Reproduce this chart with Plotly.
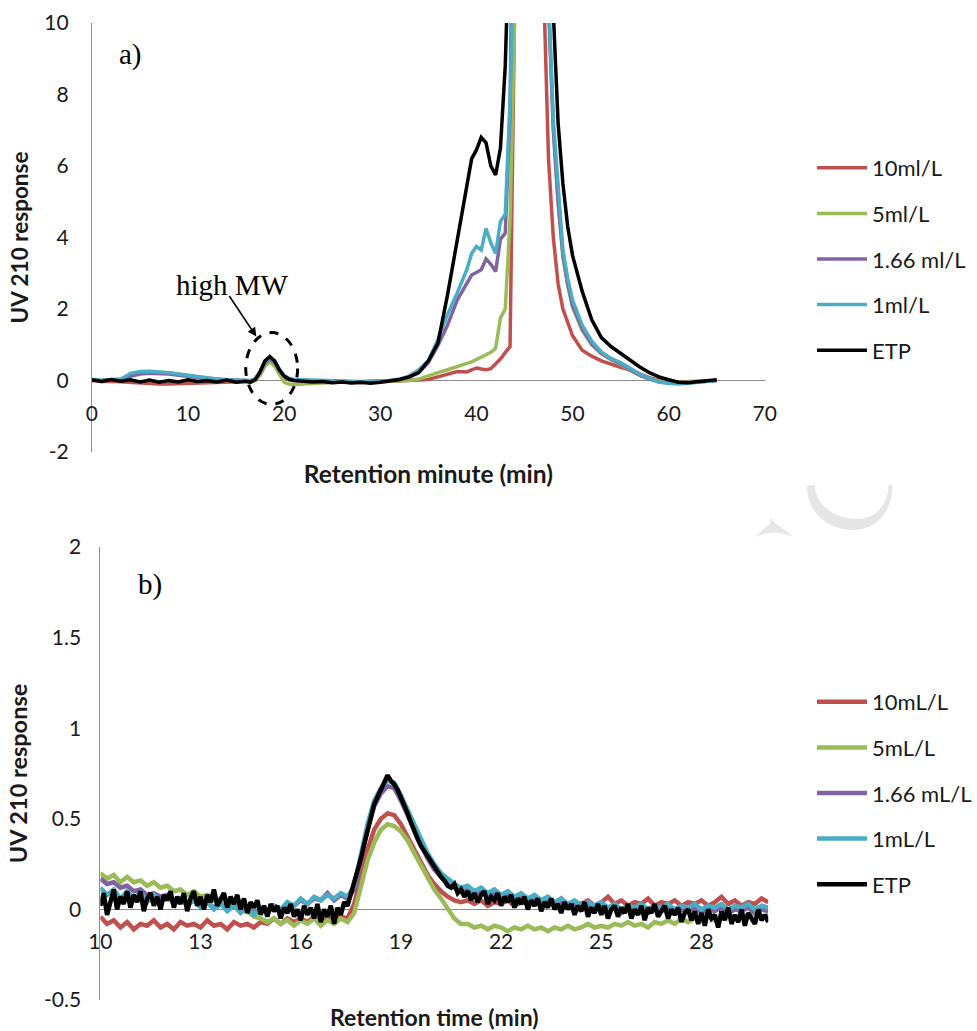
import plotly.graph_objects as go

W, H = 977, 1031

# ---------------- panel a: full chromatogram (UV 210) ----------------
time_a = [0, 1, 2, 3, 4, 5, 6, 7, 8, 9, 10, 11, 12, 13, 14, 15, 16,
          16.5, 17, 17.5, 18, 18.5, 19, 19.5, 20, 20.5, 21,
          22, 23, 24, 25, 26, 27, 28, 29, 30, 31, 32, 33, 34, 35, 36, 37, 38, 39,
          39.5, 40, 40.5, 41, 41.5, 42, 42.5, 43, 43.5, 44,
          45, 46, 47,
          47.5, 48, 48.5, 49, 49.5, 50,
          51, 52, 53, 54, 55, 56, 57, 58, 59, 60, 61, 62, 63, 64, 65]

red_a = [0.0, -0.03, -0.02, -0.04, -0.05, -0.08, -0.1, -0.1, -0.1, -0.09, -0.08, -0.06, -0.05, -0.04, -0.03, -0.03, -0.03,
         -0.03, 0.0, 0.16, 0.42, 0.55, 0.45, 0.24, 0.08, 0.02, 0.0,
         -0.01, -0.02, -0.03, -0.04, -0.05, -0.06, -0.06, -0.05, -0.04, -0.03, -0.02, -0.01, 0.0, 0.03, 0.1, 0.18, 0.25, 0.24,
         0.3, 0.35, 0.32, 0.3, 0.33, 0.45, 0.6, 0.78, 0.95, 11,
         32, 33, 11,
         6.2, 4.0, 2.7, 2.0, 1.6, 1.25,
         0.85, 0.68, 0.55, 0.45, 0.37, 0.29, 0.18, 0.08, 0.01, -0.03, -0.04, -0.03, -0.02, -0.01, 0.0]

green_a = [0.02, 0.0, 0.03, 0.05, 0.15, 0.22, 0.24, 0.24, 0.22, 0.18, 0.13, 0.09, 0.06, 0.04, 0.02, 0.0, -0.02,
           -0.03, 0.0, 0.15, 0.4, 0.52, 0.4, 0.15, -0.05, -0.1, -0.12,
           -0.1, -0.08, -0.06, -0.05, -0.04, -0.04, -0.03, -0.03, -0.02, -0.02, -0.01, 0.0, 0.04, 0.14, 0.22, 0.3, 0.4, 0.48,
           0.52, 0.58, 0.64, 0.72, 0.79, 0.9, 1.75, 2.0, 4.5, 14,
           33, 34, 16,
           10.6, 7.1, 5.0, 3.45, 2.65, 2.05,
           1.4, 1.0, 0.75, 0.58, 0.45, 0.28, 0.14, 0.04, -0.02, -0.05, -0.06, -0.05, -0.03, -0.02, 0.0]

purple_a = [0.02, 0.0, 0.02, 0.02, 0.12, 0.18, 0.2, 0.2, 0.18, 0.15, 0.12, 0.08, 0.05, 0.03, 0.02, 0.0, -0.01,
            -0.01, 0.04, 0.22, 0.48, 0.6, 0.5, 0.28, 0.12, 0.04, 0.01,
            0.0, -0.01, -0.02, -0.03, -0.03, -0.04, -0.04, -0.03, -0.02, 0.0, 0.03, 0.09, 0.22, 0.5, 0.98, 1.55, 2.25, 2.72,
            2.95, 3.02, 3.1, 3.4, 3.25, 3.05, 3.95, 4.12, 7.5, 20,
            34, 35, 16,
            10.5, 7.0, 5.0, 3.5, 2.7, 2.1,
            1.45, 1.02, 0.76, 0.6, 0.47, 0.3, 0.15, 0.04, -0.04, -0.07, -0.08, -0.06, -0.04, -0.02, 0.0]

blue_a = [0.03, 0.0, 0.02, 0.03, 0.2, 0.25, 0.26, 0.25, 0.22, 0.18, 0.14, 0.1, 0.06, 0.04, 0.02, 0.01, 0.0,
          0.0, 0.05, 0.25, 0.52, 0.64, 0.55, 0.32, 0.14, 0.06, 0.03,
          0.02, 0.0, -0.01, -0.02, -0.02, -0.03, -0.03, -0.02, -0.02, 0.0, 0.04, 0.12, 0.3, 0.55, 1.15, 1.85, 2.45, 3.1,
          3.55, 3.75, 3.65, 4.25, 3.85, 3.55, 4.45, 4.65, 7.8, 20,
          35, 36, 17,
          10.8, 7.3, 5.3, 3.65, 2.85, 2.25,
          1.55, 1.1, 0.8, 0.62, 0.5, 0.33, 0.18, 0.06, -0.04, -0.08, -0.1, -0.08, -0.05, -0.02, 0.0]

etp_a = [0.02, -0.03, 0.03, -0.02, 0.02, -0.04, 0.01, -0.05, 0.0, -0.04, 0.02, -0.03, 0.0, -0.04, 0.01, -0.05, -0.02,
         -0.05, 0.03, 0.25, 0.55, 0.67, 0.55, 0.3, 0.12, 0.04, 0.0,
         -0.02, -0.04, -0.03, -0.06, -0.04, -0.07, -0.05, -0.08, -0.05, -0.02, 0.03, 0.1, 0.22, 0.55, 1.05, 2.4, 3.9, 5.4,
         6.2, 6.45, 6.8, 6.65, 6.0, 5.75, 6.5, 8.8, 16, 25,
         34, 36, 24,
         14, 10.3, 7.2, 5.5, 4.3, 3.5,
         2.5, 1.7, 1.2, 0.95, 0.75, 0.56, 0.38, 0.22, 0.1, 0.02, -0.05, -0.06, -0.03, 0.0, 0.02]

names_a = ["10ml/L", "5ml/L", "1.66 ml/L", "1ml/L", "ETP"]
yticks_a = [-2, 0, 2, 4, 6, 8, 10]
yticklabels_a = ["-2", "0", "2", "4", "6", "8", "10"]

# ---------------- panel b: high-MW region, 10-30 min ----------------
time_b = [10.0, 10.2, 10.4, 10.6, 10.8, 11.0, 11.2, 11.4, 11.6, 11.8,
          12.0, 12.2, 12.4, 12.6, 12.8, 13.0, 13.2, 13.4, 13.6, 13.8,
          14.0, 14.2, 14.4, 14.6, 14.8, 15.0, 15.2, 15.4, 15.6, 15.8,
          16.0, 16.2, 16.4, 16.6, 16.8, 17.0, 17.2, 17.4, 17.6, 17.8,
          18.0, 18.2, 18.4, 18.6, 18.8, 19.0, 19.2, 19.4, 19.6, 19.8,
          20.0, 20.2, 20.4, 20.6, 20.8, 21.0, 21.2, 21.4, 21.6, 21.8,
          22.0, 22.2, 22.4, 22.6, 22.8, 23.0, 23.2, 23.4, 23.6, 23.8,
          24.0, 24.2, 24.4, 24.6, 24.8, 25.0, 25.2, 25.4, 25.6, 25.8,
          26.0, 26.2, 26.4, 26.6, 26.8, 27.0, 27.2, 27.4, 27.6, 27.8,
          28.0, 28.2, 28.4, 28.6, 28.8, 29.0, 29.2, 29.4, 29.6, 29.8, 30.0]

red_b = [-0.04, -0.08, -0.06, -0.1, -0.07, -0.11, -0.08, -0.09, -0.06, -0.1,
         -0.08, -0.11, -0.07, -0.09, -0.08, -0.1, -0.06, -0.09, -0.08, -0.11,
         -0.07, -0.09, -0.08, -0.1, -0.07, -0.08, -0.05, -0.08, -0.05, -0.07,
         -0.05, -0.07, -0.04, -0.06, -0.05, -0.06, -0.04, -0.05, 0.03, 0.18,
         0.33, 0.44, 0.5, 0.53, 0.52, 0.47, 0.4, 0.32, 0.25, 0.19,
         0.14, 0.1, 0.07, 0.05, 0.04, 0.05, 0.03, 0.05, 0.02, 0.04,
         0.03, 0.05, 0.02, 0.04, 0.03, 0.05, 0.02, 0.04, 0.03, 0.06,
         0.02, 0.04, 0.03, 0.05, 0.02, 0.04, 0.07, 0.03, 0.05, 0.02,
         0.04, 0.03, 0.06, 0.02, 0.04, 0.03, 0.05, 0.02, 0.04, 0.03,
         0.05, 0.02, 0.04, 0.07, 0.03, 0.05, 0.02, 0.04, 0.03, 0.06, 0.04]

green_b = [0.2, 0.17, 0.19, 0.15, 0.18, 0.15, 0.16, 0.13, 0.15, 0.12,
           0.13, 0.1, 0.11, 0.08, 0.1, 0.07, 0.08, 0.05, 0.06, 0.03,
           0.03, 0.0, -0.01, -0.04, -0.05, -0.07, -0.05, -0.08, -0.06, -0.09,
           -0.06, -0.08, -0.05, -0.09, -0.06, -0.08, -0.05, -0.07, -0.02, 0.12,
           0.27, 0.37, 0.44, 0.47, 0.46, 0.43, 0.38, 0.31, 0.24, 0.17,
           0.11, 0.06, 0.0, -0.05, -0.08, -0.08, -0.1, -0.09, -0.11, -0.09,
           -0.1, -0.12, -0.1, -0.11, -0.09, -0.11, -0.1, -0.12, -0.1, -0.11,
           -0.09, -0.11, -0.1, -0.08, -0.1, -0.09, -0.1, -0.08, -0.09, -0.07,
           -0.09, -0.08, -0.1, -0.07, -0.08, -0.06, -0.08, -0.05, -0.07, -0.05,
           -0.06, -0.04, -0.06, -0.05, -0.03, -0.05, -0.03, -0.04, -0.02, -0.04, -0.03]

purple_b = [0.17, 0.14, 0.15, 0.12, 0.13, 0.1, 0.11, 0.08, 0.09, 0.07,
            0.08, 0.05, 0.06, 0.04, 0.05, 0.02, 0.04, 0.01, 0.03, 0.0,
            0.02, -0.01, 0.01, -0.02, 0.0, -0.01, 0.02, 0.0, 0.03, 0.02,
            0.05, 0.03, 0.06, 0.05, 0.09, 0.05, 0.08, 0.06, 0.11, 0.27,
            0.44, 0.57, 0.64, 0.68, 0.67, 0.6, 0.52, 0.43, 0.35, 0.28,
            0.22, 0.18, 0.14, 0.12, 0.1, 0.11, 0.08, 0.1, 0.07, 0.09,
            0.06, 0.08, 0.05, 0.07, 0.04, 0.06, 0.03, 0.05, 0.02, 0.04,
            0.01, 0.03, 0.0, 0.02, 0.0, 0.02, -0.01, 0.01, -0.02, 0.0,
            -0.01, 0.01, -0.02, 0.0, -0.01, 0.01, -0.02, 0.0, -0.01, 0.01,
            -0.02, 0.0, -0.01, 0.01, -0.02, 0.0, -0.01, 0.01, -0.02, 0.0, -0.01]

blue_b = [0.12, 0.08, 0.11, 0.06, 0.1, 0.06, 0.09, 0.04, 0.08, 0.04,
          0.07, 0.03, 0.06, 0.02, 0.05, 0.01, 0.04, 0.0, 0.03, -0.01,
          0.02, -0.02, 0.01, -0.03, 0.0, -0.02, 0.02, 0.0, 0.04, 0.02,
          0.06, 0.03, 0.07, 0.05, 0.08, 0.06, 0.09, 0.07, 0.13, 0.3,
          0.47, 0.6, 0.67, 0.71, 0.7, 0.63, 0.55, 0.46, 0.38, 0.31,
          0.25, 0.2, 0.17, 0.14, 0.12, 0.13, 0.1, 0.12, 0.09, 0.11,
          0.08, 0.1, 0.07, 0.09, 0.06, 0.08, 0.05, 0.07, 0.04, 0.06,
          0.03, 0.05, 0.02, 0.04, 0.02, 0.04, 0.01, 0.03, 0.0, 0.02,
          0.01, 0.03, 0.0, 0.02, 0.01, 0.03, 0.0, 0.02, 0.01, 0.03,
          0.0, 0.02, 0.01, 0.03, 0.0, 0.02, 0.01, 0.03, 0.0, 0.02, 0.01]

# the ETP trace was sampled twice as densely (every 0.1 min)
time_b_etp = [round(10 + 0.1 * i, 1) for i in range(201)]
etp_b = [0.02, 0.09, -0.03, 0.05, 0.11, 0.0, 0.07, 0.03, 0.1, 0.01,
         0.08, 0.04, 0.1, -0.01, 0.06, 0.09, 0.02, 0.07, 0.0, 0.08,
         0.05, 0.1, 0.01, 0.07, 0.03, 0.09, -0.01, 0.06, 0.1, 0.02,
         0.07, 0.0, 0.08, 0.04, 0.11, 0.02, 0.06, 0.09, 0.01, 0.07,
         0.03, 0.08, 0.0, 0.06, -0.02, 0.04, 0.01, 0.05, -0.03, 0.02,
         -0.04, 0.03, -0.01, 0.02, -0.05, 0.01, -0.02, 0.03, -0.04, 0.0,
         -0.06, 0.02, -0.03, 0.01, -0.05, 0.03, -0.07, 0.0, -0.04, 0.02,
         -0.08, 0.01, -0.03, 0.04, 0.02, 0.08, 0.14, 0.2, 0.28, 0.36,
         0.44, 0.52, 0.58, 0.62, 0.66, 0.7, 0.74, 0.71, 0.69, 0.66,
         0.62, 0.57, 0.53, 0.48, 0.43, 0.39, 0.35, 0.32, 0.29, 0.26,
         0.23, 0.2, 0.18, 0.16, 0.13, 0.12, 0.14, 0.09, 0.11, 0.07,
         0.1, 0.05, 0.09, 0.04, 0.08, 0.1, 0.03, 0.07, 0.05, 0.09,
         0.02, 0.07, 0.04, 0.08, 0.01, 0.06, 0.03, 0.07, 0.0, 0.05,
         0.02, 0.06, -0.01, 0.04, 0.01, 0.06, 0.0, 0.03, -0.02, 0.04,
         0.0, 0.03, -0.03, 0.02, -0.01, 0.04, -0.04, 0.01, -0.02, 0.03,
         -0.03, 0.02, -0.05, 0.0, 0.02, -0.04, 0.01, -0.02, 0.03, -0.05,
         0.0, -0.03, 0.02, -0.06, 0.01, -0.02, 0.03, -0.04, -0.01, 0.02,
         -0.05, 0.0, -0.03, 0.01, -0.07, -0.02, 0.0, -0.06, -0.01, -0.08,
         -0.02, -0.09, 0.0, -0.05, -0.03, -0.1, -0.01, -0.06, 0.01, -0.08,
         -0.03, -0.07, 0.0, -0.09, -0.02, -0.05, -0.08, 0.0, -0.06, -0.03,
         -0.07]

names_b = ["10mL/L", "5mL/L", "1.66 mL/L", "1mL/L", "ETP"]
yticks_b = [-0.5, 0, 0.5, 1, 1.5, 2]
yticklabels_b = ["-0.5", "0", "0.5", "1", "1.5", "2"]

colors = ["#C0504D", "#9BBB59", "#8064A2", "#4BACC6", "#000000"]

FONT = "Lato"
AXIS_GREY = "#8c8c8c"
TEXT = "#1a1a1a"


def px_x(p):
    return p / W


def px_y(p):
    return 1 - p / H


fig = go.Figure()

for name, ys, c in zip(names_a, [red_a, green_a, purple_a, blue_a, etp_a], colors):
    fig.add_trace(go.Scatter(x=time_a, y=ys, name=name, mode="lines",
                             line=dict(color=c, width=3.5),
                             xaxis="x", yaxis="y", legend="legend",
                             legendgroup="a" + name))

series_b = [(time_b, red_b), (time_b, green_b), (time_b, purple_b),
            (time_b, blue_b), (time_b_etp, etp_b)]
for name, (xs, ys), c in zip(names_b, series_b, colors):
    fig.add_trace(go.Scatter(x=xs, y=ys, name=name, mode="lines",
                             line=dict(color=c, width=4.5),
                             xaxis="x2", yaxis="y2", legend="legend2",
                             legendgroup="b" + name))

# axis geometry
ya_dom = [px_y(452), px_y(23)]
ya_rng = [-2, 10]
yb_dom = [px_y(1000), px_y(547)]
yb_rng = [-0.5, 2]


def zero_pos(dom, rng):
    return dom[0] + (0 - rng[0]) / (rng[1] - rng[0]) * (dom[1] - dom[0])


tick_font = dict(family=FONT, size=21, color=TEXT)
xtitle_a = dict(family=FONT, size=24.5, color=TEXT, weight="bold")
xtitle_b = dict(family=FONT, size=23, color=TEXT, weight="bold")
ytitle_a = dict(family=FONT, size=22.5, color=TEXT, weight="bold")
ytitle_b = dict(family=FONT, size=23.5, color=TEXT, weight="bold")
legend_font = dict(family=FONT, size=22, color=TEXT)

fig.update_layout(
    width=W, height=H, template="none",
    margin=dict(l=0, r=0, t=0, b=0),
    paper_bgcolor="white", plot_bgcolor="white",
    font=dict(family=FONT, color=TEXT),
    xaxis=dict(domain=[px_x(92.5), px_x(769.5)], range=[0, 70], tick0=0, dtick=10,
               anchor="free", position=zero_pos(ya_dom, ya_rng),
               showgrid=False, zeroline=False, showline=False, ticks="",
               ticklabelstandoff=18, tickfont=tick_font, automargin=False,
               title=dict(text="Retention minute (min)", font=xtitle_a, standoff=42)),
    yaxis=dict(domain=ya_dom, range=ya_rng, tickvals=yticks_a, ticktext=yticklabels_a,
               anchor="x",
               showgrid=False, showline=True, linecolor=AXIS_GREY, linewidth=1,
               zeroline=True, zerolinecolor=AXIS_GREY, zerolinewidth=1,
               ticks="", ticklabelstandoff=18, tickfont=tick_font, automargin=False,
               title=dict(text="UV 210 response", font=ytitle_a, standoff=9)),
    xaxis2=dict(domain=[px_x(101), px_x(773)], range=[10, 30], tick0=10, dtick=3,
                anchor="free", position=zero_pos(yb_dom, yb_rng),
                showgrid=False, zeroline=False, showline=False, ticks="",
                ticklabelstandoff=18, tickfont=tick_font, automargin=False,
                title=dict(text="Retention time (min)", font=xtitle_b, standoff=59)),
    yaxis2=dict(domain=yb_dom, range=yb_rng, tickvals=yticks_b, ticktext=yticklabels_b,
                anchor="x2",
                showgrid=False, showline=True, linecolor=AXIS_GREY, linewidth=1,
                zeroline=True, zerolinecolor=AXIS_GREY, zerolinewidth=1,
                ticks="", ticklabelstandoff=14, tickfont=tick_font, automargin=False,
                title=dict(text="UV 210 response", font=ytitle_b, standoff=9)),
    legend=dict(x=px_x(817), y=px_y(147), xanchor="left", yanchor="top",
                font=legend_font, tracegroupgap=14,
                bgcolor="rgba(0,0,0,0)", itemwidth=50),
    legend2=dict(x=px_x(817), y=px_y(681), xanchor="left", yanchor="top",
                 font=legend_font, tracegroupgap=14,
                 bgcolor="rgba(0,0,0,0)", itemwidth=50),
    showlegend=True,
)

# dashed ring around the high-MW peak and its label
fig.add_shape(type="circle", xref="x", yref="y", x0=16.0, x1=21.4, y0=-0.67, y1=1.34,
              line=dict(color="black", width=3, dash="dash"))
fig.add_annotation(x=17.1, y=1.23, xref="x", yref="y", text="", showarrow=True,
                   ax=-28, ay=-42, arrowhead=2, arrowsize=1.1, arrowwidth=1.6,
                   arrowcolor="black")
fig.add_annotation(x=px_x(234), y=px_y(285), xref="paper", yref="paper",
                   xanchor="center", yanchor="middle",
                   text="high MW", showarrow=False,
                   font=dict(family="Liberation Serif", size=29, color="black"))

fig.add_annotation(x=px_x(131), y=px_y(54), xref="paper", yref="paper", text="a)",
                   xanchor="center", yanchor="middle",
                   showarrow=False, font=dict(family="Liberation Serif", size=29, color="black"))
fig.add_annotation(x=px_x(151), y=px_y(584), xref="paper", yref="paper", text="b)",
                   xanchor="center", yanchor="middle",
                   showarrow=False, font=dict(family="Liberation Serif", size=29, color="black"))

# faint watermark fragment in the gap between panels
crescent = ("M {a},{b} C {a},{c} {d},{e} {f},{e} C {g},{e} {h},{i} {h},{b} "
            "L {j},{b} C {j},{k} {l},{m} {n},{m} C {o},{m} {p},{k} {p},{b} Z").format(
    a=px_x(812), b=px_y(485), c=px_y(515), d=px_x(835), e=px_y(530), f=px_x(858),
    g=px_x(882), h=px_x(898), i=px_y(512), j=px_x(894), k=px_y(505), l=px_x(880),
    m=px_y(519), n=px_x(863), o=px_x(840), p=px_x(820))
fig.add_shape(type="path", xref="paper", yref="paper", path=crescent,
              fillcolor="#e6e6e6", line=dict(width=0), layer="below")
wedge = "M {},{} Q {},{} {},{} L {},{} L {},{} Q {},{} {},{} Q {},{} {},{} Z".format(
    px_x(760), px_y(537), px_x(769), px_y(528), px_x(775), px_y(524),
    px_x(775), px_y(518), px_x(781), px_y(524), px_x(790), px_y(530),
    px_x(798), px_y(537), px_x(780), px_y(528), px_x(760), px_y(537))
fig.add_shape(type="path", xref="paper", yref="paper", path=wedge,
              fillcolor="#e6e6e6", line=dict(width=0), layer="below")

fig.write_html("out.html")
